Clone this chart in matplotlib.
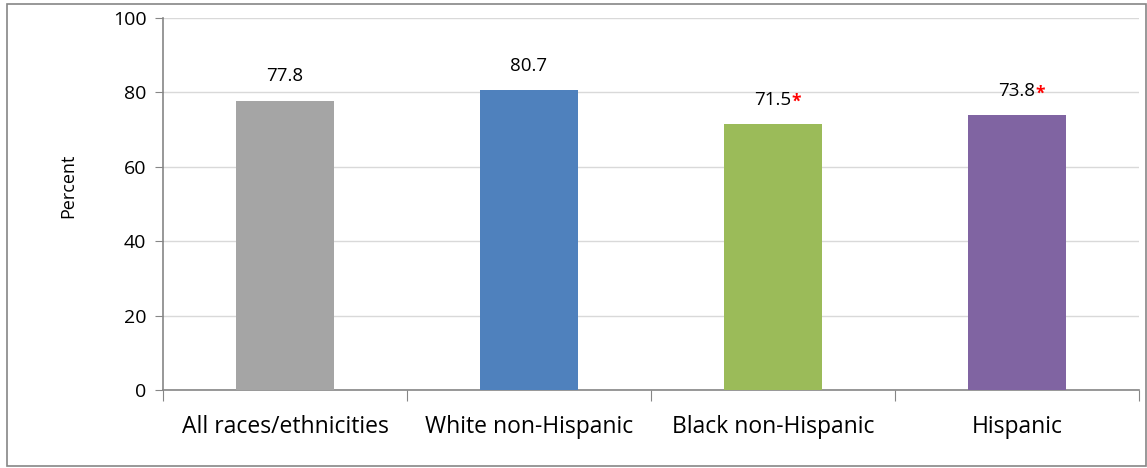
import matplotlib.pyplot as plt
from matplotlib.patches import Rectangle

categories = ["All races/ethnicities", "White non-Hispanic", "Black non-Hispanic", "Hispanic"]
values = [77.8, 80.7, 71.5, 73.8]
significant = [False, False, True, True]
colors = ["#A5A5A5", "#4F81BD", "#9BBB59", "#8064A2"]

plt.rcParams['font.family'] = ['Open Sans', 'DejaVu Sans']

fig = plt.figure(figsize=(11.47, 4.68), dpi=100)
ax = fig.add_axes([163/1147, 1-390/468, (1139-163)/1147, (390-18)/468])

x = range(len(categories))
bars = ax.bar(x, values, width=0.4, color=colors, zorder=3)

for i, (v, sig) in enumerate(zip(values, significant)):
	t = ax.annotate("{:.1f}".format(v), xy=(i, v), xytext=(0, 11), textcoords="offset points",
		ha="center", va="bottom", fontsize=13.5, color="black")
	if sig:
		ax.annotate("*", xy=(1, 1), xycoords=t, xytext=(0, -1.5), textcoords="offset points",
			ha="left", va="top", fontsize=12.5, fontweight="bold", color="#FF0000")

ax.set_xlim(-0.5, len(categories)-0.5)
ax.set_ylim(0, 100)
ax.set_yticks([0, 20, 40, 60, 80, 100])
ax.yaxis.grid(True, color="#D9D9D9", linewidth=1, zorder=0)
ax.set_axisbelow(True)

ax.set_xticks([i-0.5 for i in range(len(categories)+1)], minor=False)
ax.set_xticklabels([])
ax.set_xticks(list(x), minor=True)
ax.set_xticklabels(categories, minor=True, fontsize=16.5)
ax.tick_params(axis="x", which="minor", length=0, pad=18)
ax.tick_params(axis="x", which="major", length=8, color="#868686", direction="out")
ax.tick_params(axis="y", length=6, color="#868686", labelsize=14, pad=6)

for s in ["top", "right"]:
	ax.spines[s].set_visible(False)
for s in ["left", "bottom"]:
	ax.spines[s].set_color("#868686")
	ax.spines[s].set_linewidth(1.2)

ax.set_ylabel("Percent", fontsize=13)
ax.yaxis.set_label_coords(-0.088, 0.55)

fig.patches.append(Rectangle((7/1147, 2/468), 1139/1147, 462/468, transform=fig.transFigure,
	fill=False, edgecolor="#868686", linewidth=1.2))

fig.savefig("out.png", dpi=100)
